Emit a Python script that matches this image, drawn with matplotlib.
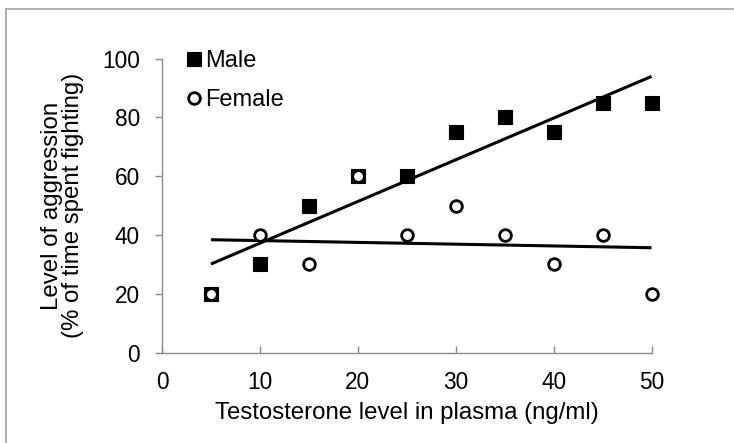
import numpy as np
import matplotlib.pyplot as plt
from matplotlib.lines import Line2D

plt.rcParams['font.family'] = ['Liberation Sans', 'DejaVu Sans']

# testosterone level (ng/ml)
testosterone = [5, 10, 15, 20, 25, 30, 35, 40, 45, 50]
# % of time spent fighting
male = [20, 30, 50, 60, 60, 75, 80, 75, 85, 85]
female = [20, 40, 30, 60, 40, 50, 40, 30, 40, 20]

x_ticks = [0, 10, 20, 30, 40, 50]
y_ticks = [0, 20, 40, 60, 80, 100]

W, H = 734, 443
fig = plt.figure(figsize=(W / 100, H / 100), dpi=100)
ax = fig.add_axes([162 / W, 1 - 352.5 / H, (651.5 - 162) / W, (352.5 - 58.5) / H])

# outer chart border (cropped on right and bottom)
bx, by = 6 / W, 1 - 9 / H
border = '#a3a3a3'
fig.lines.append(Line2D([bx, 1.01], [by, by], transform=fig.transFigure,
                        color=border, lw=1.2))
fig.lines.append(Line2D([bx, bx], [-0.01, by], transform=fig.transFigure,
                        color=border, lw=1.2))

x = np.array(testosterone, dtype=float)
xs = np.array([x.min(), x.max()])

# linear trendlines
for ys in (male, female):
    k, b = np.polyfit(x, np.array(ys, dtype=float), 1)
    ax.plot(xs, k * xs + b, color='black', lw=2.2, zorder=2,
            solid_capstyle='butt')

ax.plot(testosterone, male, 's', ms=9.5, mfc='black', mec='black', mew=0.8,
        label='Male', zorder=3, clip_on=False)
ax.plot(testosterone, female, 'o', ms=8.4, mfc='white', mec='black', mew=2.0,
        label='Female', zorder=4, clip_on=False)

ax.set_xlim(0, 50)
ax.set_ylim(0, 100)
ax.set_xticks(x_ticks)
ax.set_yticks(y_ticks)

for s in ('top', 'right'):
    ax.spines[s].set_visible(False)
for s in ('left', 'bottom'):
    ax.spines[s].set_color('#8a8a8a')
    ax.spines[s].set_linewidth(1.0)

ax.tick_params(axis='x', direction='in', length=5, width=1, color='#8a8a8a',
               labelsize=16.3, pad=13)
ax.tick_params(axis='y', direction='out', length=5, width=1, color='#8a8a8a',
               labelsize=16.3, pad=11)

ax.set_xlabel('Testosterone level in plasma (ng/ml)', fontsize=17.3, labelpad=6)
ax.set_ylabel('Level of aggression\n(% of time spent fighting)', fontsize=17.3,
              labelpad=13, linespacing=0.95)

ax.legend(loc='upper left', bbox_to_anchor=(0.05, 1.028), frameon=False,
          fontsize=17, handlelength=0.6, handletextpad=0.2, labelspacing=0.72,
          borderaxespad=0, borderpad=0)

fig.savefig('out.png', dpi=100)
